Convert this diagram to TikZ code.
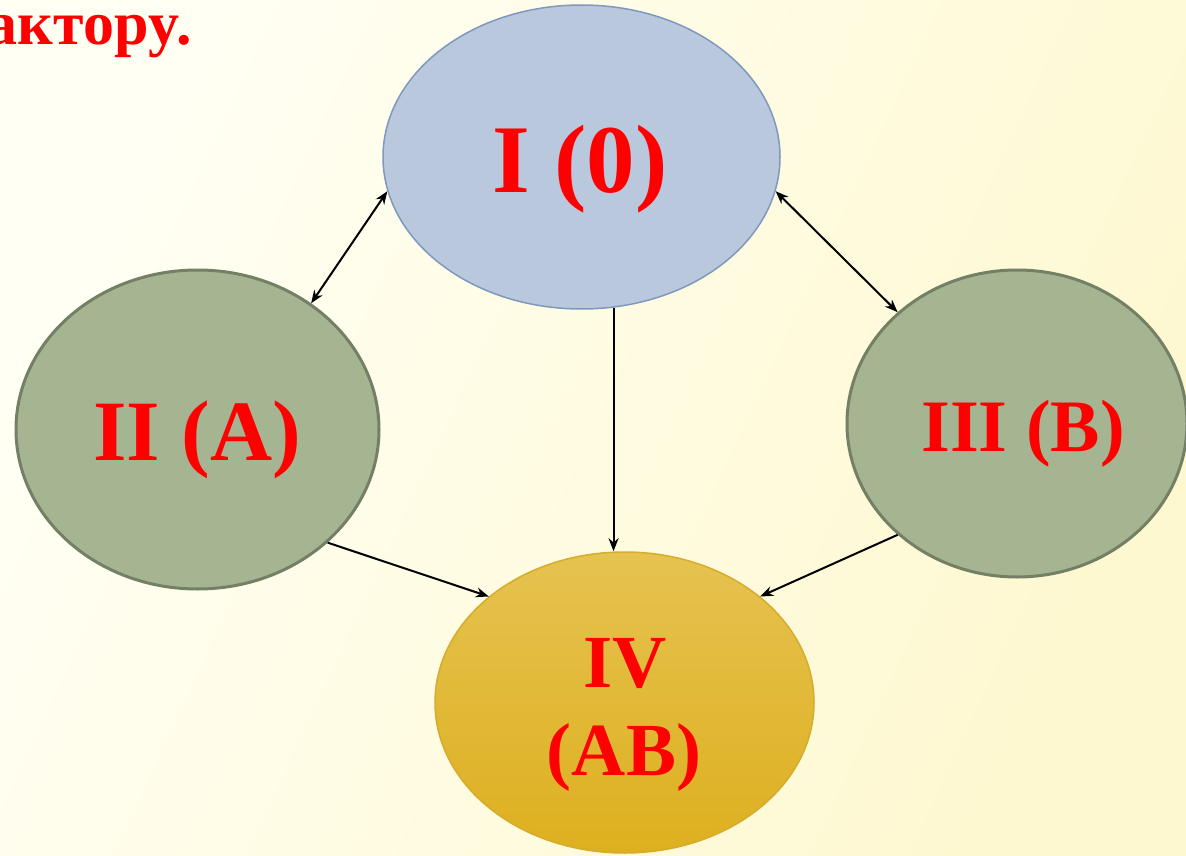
\documentclass[tikz,border=0pt]{standalone}
\usepackage{fontspec}
\setmainfont{Liberation Serif}
\usetikzlibrary{shapes.geometric,arrows.meta}

\definecolor{paperLight}{HTML}{FFFFF4}
\definecolor{paperWarm}{HTML}{FEF8D0}
\definecolor{blueFill}{HTML}{B9C8DC}
\definecolor{blueLine}{HTML}{7F98BE}
\definecolor{greenFill}{HTML}{A5B592}
\definecolor{greenLine}{HTML}{738066}
\definecolor{goldTop}{HTML}{E6C250}
\definecolor{goldBottom}{HTML}{DDB01F}
\definecolor{goldLine}{HTML}{D6AC2C}
\definecolor{labelRed}{HTML}{FF0000}

\begin{document}
\begin{tikzpicture}[x=1pt,y=-1pt,
  >={Stealth[length=13pt,width=10pt]},
  oval/.style={ellipse,inner sep=0pt},
  blueoval/.style={oval,fill=blueFill,draw=blueLine,line width=1.5pt},
  greenoval/.style={oval,fill=greenFill,draw=greenLine,line width=3pt},
  goldoval/.style={oval,top color=goldTop,bottom color=goldBottom,draw=goldLine,line width=1.5pt},
  lbl/.style={text=labelRed,inner sep=0pt,font=\bfseries\fontsize{#1}{#1}\selectfont},
  link/.style={draw=black,line width=2pt}]

  % page and background
  \useasboundingbox (0,0) rectangle (1186,856);
  \shade[shading=axis,top color=paperWarm,bottom color=paperLight,shading angle=-115]
    (0,0) rectangle (1186,856);

  % title fragment
  \node[lbl=62,anchor=base east] (title) at (192,45) {акторy.};

  % blood groups
  \node[blueoval,minimum width=397,minimum height=304] (I) at (581.5,157) {};
  \node[greenoval,minimum width=363,minimum height=319] (II) at (197.5,429.5) {};
  \node[greenoval,minimum width=340,minimum height=307] (III) at (1017,423.5) {};
  \node[goldoval,minimum width=379,minimum height=301] (IV) at (624.5,702.5) {};

  \node[lbl=97,anchor=base] (tI) at (580,192) {I (0)};
  \node[lbl=86,anchor=base] (tII) at (197,460) {II (A)};
  \node[lbl=74,anchor=base] (tIII) at (1023,451) {III (B)};
  \node[lbl=75,anchor=base] (tIVa) at (625,687) {IV};
  \node[lbl=75,anchor=base] (tIVb) at (624,775) {(AB)};

  % compatibility links
  \draw[link,<->] (I.190) -- (II.48);
  \draw[link,<->] (I.350) -- (III.137);
  \draw[link,->] (I.282) -- (I.282 |- IV.north);
  \draw[link,->] (II.-41) -- (IV.142);
  \draw[link,->] (III.223) -- (IV.38);
\end{tikzpicture}
\end{document}
